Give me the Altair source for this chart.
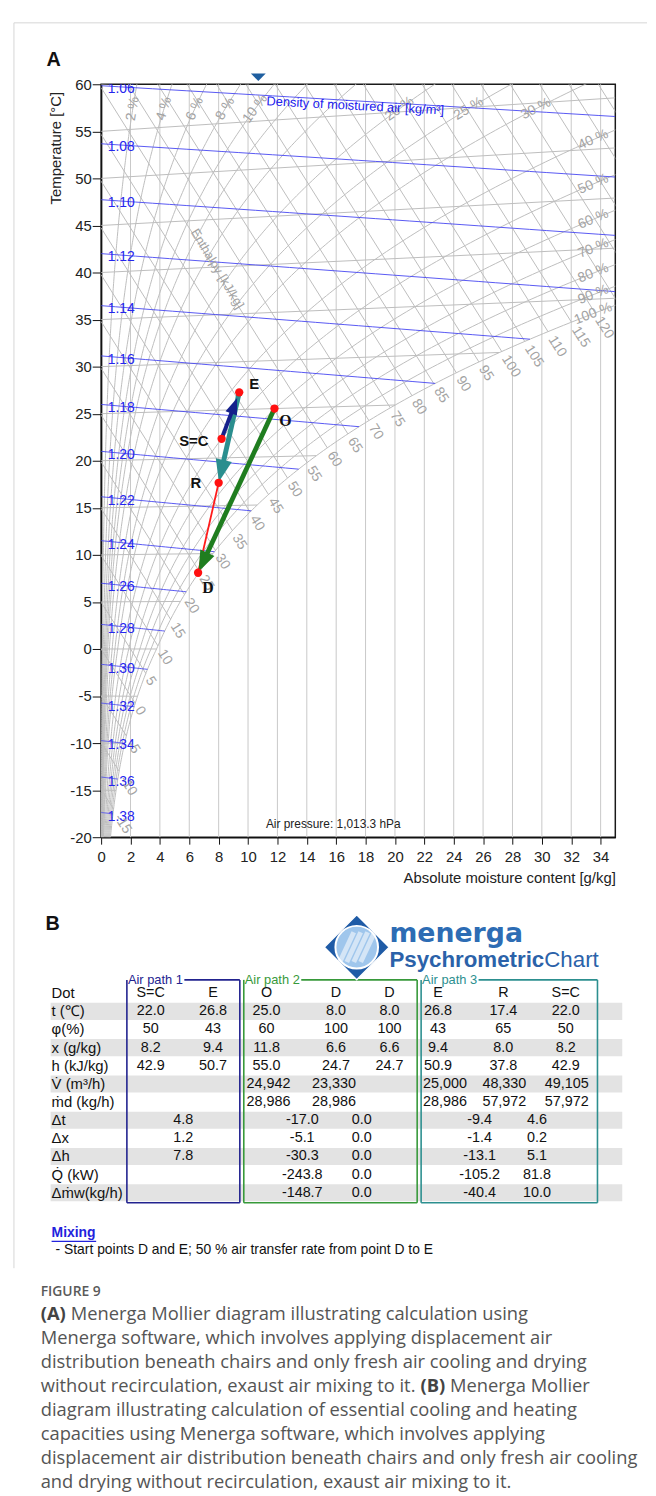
import math
import altair as alt
import pandas as pd

# ============================ values ============================
RH_LEVELS = [2, 4, 6, 8, 10, 12, 15, 20, 25, 30, 40, 50, 60, 70, 80, 90, 100]
RH_TOP_LABELS = [2, 4, 6, 8, 10, 20, 25, 30]
RH_SIDE_LABELS = [40, 50, 60, 70, 80, 90, 100]
ENTHALPY_LEVELS = list(range(-15, 155, 5))
ENTHALPY_LABELS = list(range(-15, 125, 5))
DENSITY_LEVELS = [1.06, 1.08, 1.10, 1.12, 1.14, 1.16, 1.18, 1.20, 1.22,
                  1.24, 1.26, 1.28, 1.30, 1.32, 1.34, 1.36, 1.38]
ISOTHERMS = list(range(-20, 65, 5))
MOISTURE_GRID = list(range(2, 36, 2))
X_TICKS = list(range(0, 35, 2))
Y_TICKS = list(range(-20, 61, 5))

STATE_NAMES = ["S=C", "E", "O", "D", "R"]
STATE_T = [22.0, 26.8, 25.0, 8.0, 17.4]
STATE_X = [8.2, 9.4, 11.8, 6.6, 8.0]
MIXING_LINE = ["D", "R"]
ARROW_FROM = ["O", "E", "S=C"]
ARROW_TO = ["D", "R", "E"]
MARKER_X = 10.7

ROW_LABELS = ["Dot", "t (\u2103)", "\u03c6(%)", "x (g/kg)", "h (kJ/kg)", "V\u0307 (m\u00b3/h)",
              "\u1e41d (kg/h)", "\u0394t", "\u0394x", "\u0394h", "Q\u0307 (kW)", "\u0394\u1e41w(kg/h)"]
COL_HEADERS = ["S=C", "E", "O", "D", "D", "E", "R", "S=C"]
ROW_T = ["22.0", "26.8", "25.0", "8.0", "8.0", "26.8", "17.4", "22.0"]
ROW_PHI = ["50", "43", "60", "100", "100", "43", "65", "50"]
ROW_X = ["8.2", "9.4", "11.8", "6.6", "6.6", "9.4", "8.0", "8.2"]
ROW_H = ["42.9", "50.7", "55.0", "24.7", "24.7", "50.9", "37.8", "42.9"]
ROW_V = ["", "", "24,942", "23,330", "", "25,000", "48,330", "49,105"]
ROW_M = ["", "", "28,986", "28,986", "", "28,986", "57,972", "57,972"]
ROW_DT = ["4.8", "-17.0", "0.0", "-9.4", "4.6"]
ROW_DX = ["1.2", "-5.1", "0.0", "-1.4", "0.2"]
ROW_DH = ["7.8", "-30.3", "0.0", "-13.1", "5.1"]
ROW_Q = ["", "-243.8", "0.0", "-105.2", "81.8"]
ROW_DM = ["", "-148.7", "0.0", "-40.4", "10.0"]
AIR_PATHS = ["Air path 1", "Air path 2", "Air path 3"]

MIXING_TITLE = "Mixing"
MIXING_NOTE = "- Start points D and E; 50 % air transfer rate from point D to E"
FIG_LABEL = "FIGURE 9"
CAPTION = [
    [("(A)", True), ("Menerga Mollier diagram illustrating calculation using", False)],
    [("Menerga software, which involves applying displacement air", False)],
    [("distribution beneath chairs and only fresh air cooling and drying", False)],
    [("without recirculation, exaust air mixing to it.", False), ("(B)", True), ("Menerga Mollier", False)],
    [("diagram illustrating calculation of essential cooling and heating", False)],
    [("capacities using Menerga software, which involves applying", False)],
    [("displacement air distribution beneath chairs and only fresh air cooling", False)],
    [("and drying without recirculation, exaust air mixing to it.", False)],
]

# ============================ layout / style ============================
W, H = 519, 760
PX_X = W / 35.0
PX_Y = H / 80.0
FONT = "Liberation Sans"
GRID = "#bdbdbd"
LABEL_GRAY = "#a3a3a3"
BLUE = "#4646f2"
ARROW_STYLE = {"O": ("#1f7d1f", 4.8, 340), "E": ("#2a8e8e", 5.0, 380), "S=C": ("#14208c", 4.0, 210)}
LABEL_OFF = {"S=C": (-28, 2), "E": (15, -8), "O": (11, 13), "D": (10, 15), "R": (-23, 0)}
HEAD = "M0,0L0.85,2.3L-0.85,2.3Z"

COL_XP = [151, 214, 268, 338, 392, 441, 507, 570]
COL_XP_WIDE = [151, 214, 270, 336, 392, 448, 508, 571]   # V / m rows
DELTA_XP = [184, 304, 364, 483, 541]
LABEL_XP = 51
ROW0 = 994.5
ROWH = 18.3
BOXES = [(127, 241, "#22238f"), (245, 420, "#37993a"), (424, 602, "#2c8f8f")]
BOX_TOP, BOX_BOT = 981, 1206
CAP_X = 40
CAP_FS = 18.5
CAP_SCALE = CAP_FS / 18.0

# ============================ psychrometrics ============================
P_ATM = 101325.0


def p_sat(t):
    if t >= 0:
        return 611.2 * math.exp(17.62 * t / (243.12 + t))
    return 611.2 * math.exp(22.46 * t / (272.62 + t))


def moisture(t, phi):
    pv = phi / 100.0 * p_sat(t)
    return 622.0 * pv / (P_ATM - pv)


def mollier_y(t, x):
    return t * (1.0 + 0.00186 * x / 1.006)


def bisect(f, a, b, n=70):
    fa = f(a)
    for _ in range(n):
        m = 0.5 * (a + b)
        fm = f(m)
        if (fm > 0) == (fa > 0):
            a, fa = m, fm
        else:
            b = m
    return 0.5 * (a + b)


def h_sat(t):
    x = moisture(t, 100)
    return 1.006 * t + x / 1000.0 * (2501 + 1.86 * t)


def dens_t(rho, x):
    T = P_ATM * (1 + x / 1000.0) / (rho * 287.06 * (1 + 1.608 * x / 1000.0))
    return T - 273.15


def rh_point(phi, t):
    x = moisture(t, phi)
    return x, mollier_y(t, x)


def rh_angle(phi, t):
    x1, y1 = rh_point(phi, t - 0.05)
    x2, y2 = rh_point(phi, t + 0.05)
    return (-math.degrees(math.atan2((y2 - y1) * PX_Y, (x2 - x1) * PX_X))) % 360


rh_rows = []
for phi in RH_LEVELS:
    t, k = -20.0, 0
    while t <= 70:
        x, y = rh_point(phi, t)
        rh_rows.append({"id": phi, "o": k, "x": x, "y": y})
        k += 1
        if x > 36 or y > 61:
            break
        t += 0.25
rh_df = pd.DataFrame(rh_rows)

rh_lab = []
for phi in RH_TOP_LABELS:
    t = bisect(lambda tt: rh_point(phi, tt)[1] - 57.4, -20, 70)
    x, y = rh_point(phi, t)
    rh_lab.append({"x": x, "y": y, "text": f"{phi} %", "a": rh_angle(phi, t)})
for phi in RH_SIDE_LABELS:
    t = bisect(lambda tt: rh_point(phi, tt)[0] - 33.5, -20, 70)
    x, y = rh_point(phi, t)
    rh_lab.append({"x": x, "y": y, "text": f"{phi} %", "a": rh_angle(phi, t)})
rh_lab_df = pd.DataFrame(rh_lab)

h_rows, h_lab = [], []
SLOPE = 2.501 / 1.006
for h in ENTHALPY_LEVELS:
    ts = bisect(lambda tt: h_sat(tt) - h, -30, 70)
    xe = moisture(ts, 100)
    ye = mollier_y(ts, xe)
    if h / 1.006 <= 60:
        x0, y0 = 0.0, h / 1.006
    else:
        x0, y0 = (h - 1.006 * 60) / 2.501, 60.0
    h_rows.append({"x": x0, "y": y0, "x2": xe, "y2": ye})
    if h in ENTHALPY_LABELS:
        half = 4.2 * len(str(h)) + 5
        d = half / math.hypot(PX_X, SLOPE * PX_Y)
        h_lab.append({"x": xe + d, "y": ye - SLOPE * d, "text": str(h)})
h_df = pd.DataFrame(h_rows)
h_lab_df = pd.DataFrame(h_lab)

iso_rows = []
for t in ISOTHERMS:
    xe = min(moisture(t, 100), 35.0)
    iso_rows.append({"x": 0.0, "y": float(t), "x2": xe, "y2": mollier_y(t, xe)})
iso_df = pd.DataFrame(iso_rows)

d_rows, d_lab = [], []
for rho in DENSITY_LEVELS:
    f = lambda x: x - moisture(dens_t(rho, x), 100)
    xe = 35.0 if f(35.0) < 0 else bisect(f, 0.0, 35.0)
    for k in range(31):
        x = xe * k / 30.0
        t = dens_t(rho, x)
        d_rows.append({"id": rho, "o": k, "x": x, "y": mollier_y(t, x)})
    d_lab.append({"x": 0.45, "y": mollier_y(dens_t(rho, 1.3), 1.3) - 0.25, "text": f"{rho:.2f}"})
d_df = pd.DataFrame(d_rows)
d_lab_df = pd.DataFrame(d_lab)


def state(name):
    i = STATE_NAMES.index(name)
    return STATE_X[i], mollier_y(STATE_T[i], STATE_X[i])


pts_df = pd.DataFrame([{"name": n, "x": state(n)[0], "y": state(n)[1]} for n in STATE_NAMES])
lab_rows = []
for n in STATE_NAMES:
    x, y = state(n)
    dx, dy = LABEL_OFF[n]
    lab_rows.append({"text": n, "x": x + dx / PX_X, "y": y - dy / PX_Y, "serif": n in ("O", "D")})
lab_df = pd.DataFrame(lab_rows)

mx0, my0 = state(MIXING_LINE[0])
mx1, my1 = state(MIXING_LINE[1])
mix_df = pd.DataFrame([{"x": mx0, "y": my0, "x2": mx1, "y2": my1}])

a_lines, a_heads = [], []
for a, b in zip(ARROW_FROM, ARROW_TO):
    col, lw, size = ARROW_STYLE[a]
    x0, y0 = state(a)
    x1, y1 = state(b)
    back = 6.0 if a == "S=C" else 1.0
    dxp, dyp = (x1 - x0) * PX_X, (y1 - y0) * PX_Y
    L = math.hypot(dxp, dyp)
    ux, uy = dxp / L, dyp / L
    tx, ty = x1 - ux * back / PX_X, y1 - uy * back / PX_Y
    hlen = 2.3 * math.sqrt(size) / 2
    bx, by = tx - ux * hlen * 0.8 / PX_X, ty - uy * hlen * 0.8 / PX_Y
    a_lines.append({"x": x0, "y": y0, "x2": bx, "y2": by, "c": col, "w": lw})
    a_heads.append({"x": tx, "y": ty, "c": col, "s": size,
                    "a": math.degrees(math.atan2(ux, uy)) % 360})
a_lines_df = pd.DataFrame(a_lines)
a_heads_df = pd.DataFrame(a_heads)

# ============================ panel A chart ============================
xs = alt.Scale(domain=[0, 35], nice=False, zero=False)
ys = alt.Scale(domain=[-20, 60], nice=False, zero=False)

x_axis = alt.Axis(values=X_TICKS, title="Absolute moisture content [g/kg]", grid=False,
                  domainColor="#111", domainWidth=1.5, tickColor="#111", tickSize=7,
                  labelFont=FONT, labelFontSize=15, labelColor="#222", labelPadding=6,
                  labelFlush=False, labelOverlap=False,
                  titleFont=FONT, titleFontSize=15, titleFontWeight="normal", titleColor="#222",
                  titleAlign="right", titleX=W, titleY=41, titleBaseline="middle")
y_axis = alt.Axis(values=Y_TICKS, title="Temperature [\u00b0C]", grid=False,
                  domainColor="#111", domainWidth=1.5, tickColor="#111", tickSize=9,
                  labelFont=FONT, labelFontSize=15, labelColor="#222", labelPadding=1,
                  labelFlush=False, labelOverlap=False,
                  labelExpr="datum.value < 0 ? '-' + abs(datum.value) : '' + datum.value",
                  titleFont=FONT, titleFontSize=15, titleFontWeight="normal", titleColor="#222",
                  titleX=-46, titleY=64, titleAngle=270, titleAlign="center",
                  titleBaseline="middle")


def XQ(f="x"):
    return alt.X(f"{f}:Q", scale=xs, axis=x_axis)


def YQ(f="y"):
    return alt.Y(f"{f}:Q", scale=ys, axis=y_axis)


vgrid = alt.Chart(pd.DataFrame({"x": MOISTURE_GRID, "y": -20, "y2": 60})).mark_rule(
    color="#c8c8c8", strokeWidth=1).encode(x=XQ(), y=YQ(), y2="y2:Q")
iso = alt.Chart(iso_df).mark_rule(color=GRID, strokeWidth=1, clip=True).encode(
    x=XQ(), y=YQ(), x2="x2:Q", y2="y2:Q")
hl = alt.Chart(h_df).mark_rule(color=GRID, strokeWidth=1, clip=True).encode(
    x=XQ(), y=YQ(), x2="x2:Q", y2="y2:Q")
rh = alt.Chart(rh_df).mark_line(color=GRID, strokeWidth=1, clip=True).encode(
    x=XQ(), y=YQ(), detail="id:N", order="o:Q")
dens = alt.Chart(d_df).mark_line(color=BLUE, strokeWidth=0.9, clip=True).encode(
    x=XQ(), y=YQ(), detail="id:N", order="o:Q")

dens_lab = alt.Chart(d_lab_df).mark_text(font=FONT, fontSize=14, color="#2525ee", align="left",
                                         baseline="middle", clip=True).encode(
    x=XQ(), y=YQ(), text="text:N")
h_labels = alt.Chart(h_lab_df).mark_text(font=FONT, fontSize=14, color=LABEL_GRAY, angle=57.9,
                                         align="center", baseline="middle").encode(
    x=XQ(), y=YQ(), text="text:N")
rh_labels = alt.Chart(rh_lab_df).mark_text(font=FONT, fontSize=14, color=LABEL_GRAY,
                                           align="center", baseline="middle").encode(
    x=XQ(), y=YQ(), text="text:N", angle=alt.Angle("a:Q", scale=None))

dens_note = alt.Chart(pd.DataFrame([{"x": 17.3, "y": 57.7, "text": "Density of moistured air [kg/m\u00b3]"}])).mark_text(
    font=FONT, fontSize=13, color="#2020ee", angle=3, align="center", baseline="middle").encode(
    x=XQ(), y=YQ(), text="text:N")
ent_note = alt.Chart(pd.DataFrame([{"x": 7.9, "y": 40.4, "text": "Enthalpy [kJ/kg]"}])).mark_text(
    font=FONT, fontSize=13, color=LABEL_GRAY, angle=59, align="center", baseline="middle").encode(
    x=XQ(), y=YQ(), text="text:N")
press_note = alt.Chart(pd.DataFrame([{"x": 15.8, "y": -18.6, "text": "Air pressure: 1,013.3 hPa"}])).mark_text(
    font=FONT, fontSize=12, color="#222", align="center", baseline="middle").encode(
    x=XQ(), y=YQ(), text="text:N")

mix_line = alt.Chart(mix_df).mark_rule(color="#ff1a1a", strokeWidth=1.8).encode(
    x=XQ(), y=YQ(), x2="x2:Q", y2="y2:Q")
arrow_lines = alt.Chart(a_lines_df).mark_rule().encode(
    x=XQ(), y=YQ(), x2="x2:Q", y2="y2:Q",
    color=alt.Color("c:N", scale=None), strokeWidth=alt.StrokeWidth("w:Q", scale=None))
arrow_heads = alt.Chart(a_heads_df).mark_point(shape=HEAD, filled=True, opacity=1).encode(
    x=XQ(), y=YQ(), color=alt.Color("c:N", scale=None), size=alt.Size("s:Q", scale=None),
    angle=alt.Angle("a:Q", scale=None))
points = alt.Chart(pts_df).mark_circle(size=70, color="#ff1010", opacity=1).encode(x=XQ(), y=YQ())
labels_sans = alt.Chart(lab_df[~lab_df.serif]).mark_text(
    font=FONT, fontSize=15, fontWeight="bold", color="#111", align="center", baseline="middle").encode(
    x=XQ(), y=YQ(), text="text:N")
labels_serif = alt.Chart(lab_df[lab_df.serif]).mark_text(
    font="Liberation Serif", fontSize=16, fontWeight="bold", color="#111", align="center",
    baseline="middle").encode(x=XQ(), y=YQ(), text="text:N")
marker = alt.Chart(pd.DataFrame([{"x": MARKER_X, "y": 60}])).mark_point(
    shape="M-1,-0.5L1,-0.5L0,0.5Z", filled=True, size=225, color="#1f5fa0", opacity=1,
    yOffset=-7).encode(x=XQ(), y=YQ())

panel_a = alt.layer(vgrid, iso, hl, rh, dens, dens_lab, h_labels, rh_labels, dens_note,
                    ent_note, press_note, mix_line, arrow_lines, arrow_heads, points,
                    labels_sans, labels_serif, marker)

# ============================ page overlay (panel B + caption) ============================
ox = alt.Scale(domain=[101, 101 + W], nice=False, zero=False)
oy = alt.Scale(domain=[77, 77 + H], nice=False, zero=False, reverse=True)


def PX(f="x"):
    return alt.X(f"{f}:Q", scale=ox, axis=None)


def PY(f="y"):
    return alt.Y(f"{f}:Q", scale=oy, axis=None)


def ptext(rows, **kw):
    return alt.Chart(pd.DataFrame(rows)).mark_text(**kw).encode(x=PX(), y=PY(), text="text:N")


def prules(rows, **kw):
    df = pd.DataFrame(rows)
    enc = {"x": PX(), "y": PY()}
    if "x2" in df:
        enc["x2"] = "x2:Q"
    if "y2" in df:
        enc["y2"] = "y2:Q"
    return alt.Chart(df).mark_rule(**kw).encode(**enc)


border = prules([{"x": 13, "y": 15, "y2": 1272}, {"x": 13, "x2": 652, "y": 15}],
                color="#d6d6d6", strokeWidth=1)
panel_letters = ptext([{"x": 53, "y": 53, "text": "A"}, {"x": 52, "y": 925, "text": "B"}],
                      font=FONT, fontSize=20, fontWeight="bold", color="#111",
                      align="center", baseline="middle")

row_y = lambda r: ROW0 + r * ROWH
shade = alt.Chart(pd.DataFrame([{"x": 50, "x2": 627, "y": row_y(r) - 8.6, "y2": row_y(r) + 8.6}
                                for r in (1, 3, 5, 7, 9, 11)])).mark_rect(color="#e3e3e3").encode(
    x=PX(), x2="x2:Q", y=PY(), y2="y2:Q")

cells = []
for r, lab in enumerate(ROW_LABELS):
    cells.append({"x": LABEL_XP, "y": row_y(r), "text": lab, "al": "left"})
for r, vals in enumerate([COL_HEADERS, ROW_T, ROW_PHI, ROW_X, ROW_H, ROW_V, ROW_M]):
    cols = COL_XP_WIDE if r >= 5 else COL_XP
    for cx, v in zip(cols, vals):
        if v:
            cells.append({"x": cx, "y": row_y(r), "text": v, "al": "center"})
for r, vals in enumerate([ROW_DT, ROW_DX, ROW_DH, ROW_Q, ROW_DM], start=7):
    for cx, v in zip(DELTA_XP, vals):
        if v:
            cells.append({"x": cx, "y": row_y(r), "text": v, "al": "center"})
cells_df = pd.DataFrame(cells)
cell_left = ptext(cells_df[cells_df.al == "left"].to_dict("records"), font=FONT, fontSize=15,
                  color="#111", align="left", baseline="middle")
cell_center = ptext(cells_df[cells_df.al == "center"].to_dict("records"), font=FONT, fontSize=14.5,
                    color="#111", align="center", baseline="middle")

box_layers = []
for (bl, br, col), name in zip(BOXES, AIR_PATHS):
    box_layers.append(prules([
        {"x": bl + 58, "x2": br, "y": BOX_TOP},
        {"x": bl, "x2": br, "y": BOX_BOT},
        {"x": bl, "y": BOX_TOP, "y2": BOX_BOT},
        {"x": br, "y": BOX_TOP, "y2": BOX_BOT}], color=col, strokeWidth=1.6))
    box_layers.append(ptext([{"x": bl + 1, "y": BOX_TOP, "text": name}], font=FONT, fontSize=13,
                            color=col, align="left", baseline="middle"))

logo_c = pd.DataFrame([{"x": 359, "y": 948}])
logo_diamond = alt.Chart(logo_c).mark_point(shape="diamond", filled=True, size=4300, fill="#1f5ba6",
                                             stroke="#ffffff", strokeWidth=1.5, opacity=1).encode(
    x=PX(), y=PY())
logo_circle = alt.Chart(logo_c).mark_point(shape="circle", filled=True, size=1850, fill="#9fc6ec",
                                            stroke="#ffffff", strokeWidth=2, opacity=1).encode(
    x=PX(), y=PY())
logo_stripes = alt.Chart(pd.DataFrame([{"x": 359 + dx, "y": 948} for dx in (-10, -3, 4, 11)])).mark_point(
    shape="M-0.15,-1L0.15,-1L0.15,1L-0.15,1Z", filled=True, size=1100, fill="#ffffff", opacity=0.55,
    angle=25).encode(x=PX(), y=PY())
logo_m = ptext([{"x": 392, "y": 943, "text": "menerga"}], font="DejaVu Sans", fontSize=27,
               fontWeight="bold", color="#2d6cb4", align="left", baseline="alphabetic")
logo_p = ptext([{"x": 392, "y": 968, "text": "Psychrometric"}], font=FONT, fontSize=22.5,
               fontWeight="bold", color="#2b62a9", align="left", baseline="alphabetic")
logo_c2 = ptext([{"x": 392 + 6.947 * 22.5, "y": 968, "text": "Chart"}], font=FONT, fontSize=22.5,
                color="#2b62a9", align="left", baseline="alphabetic")

mix_t = ptext([{"x": 51, "y": 1237, "text": MIXING_TITLE}], font=FONT, fontSize=14, fontWeight="bold",
              color="#2222dd", align="left", baseline="middle")
mix_u = prules([{"x": 51, "x2": 96, "y": 1245}], color="#2222dd", strokeWidth=1.2)
mix_n = ptext([{"x": 55, "y": 1254, "text": MIXING_NOTE}], font=FONT, fontSize=14, color="#111",
              align="left", baseline="middle")

fig_l = ptext([{"x": CAP_X, "y": 1296, "text": FIG_LABEL}], font="Open Sans", fontSize=14,
              fontWeight=600, color="#5a5a5a", align="left", baseline="middle")
SEG_X = {(0, 0): CAP_X, (0, 1): CAP_X + 29.5 * CAP_SCALE, (3, 0): CAP_X,
         (3, 1): CAP_X + 373 * CAP_SCALE, (3, 2): CAP_X + 402 * CAP_SCALE}
cap_reg, cap_bold = [], []
for i, segs in enumerate(CAPTION):
    for j, (txt, bold) in enumerate(segs):
        row = {"x": SEG_X.get((i, j), CAP_X), "y": 1318 + i * 24.3, "text": txt}
        (cap_bold if bold else cap_reg).append(row)
cap_r = ptext(cap_reg, font="Open Sans", fontSize=CAP_FS, color="#555555", align="left", baseline="middle")
cap_b = ptext(cap_bold, font="Open Sans", fontSize=CAP_FS, fontWeight="bold", color="#444444",
              align="left", baseline="middle")

overlay = alt.layer(border, panel_letters, shade, *box_layers, cell_left, cell_center,
                    logo_diamond, logo_circle, logo_stripes, logo_m, logo_p, logo_c2,
                    mix_t, mix_u, mix_n, fig_l, cap_r, cap_b)

chart = alt.layer(panel_a, overlay).resolve_scale(x="independent", y="independent").properties(
    width=W, height=H, padding={"left": 5, "top": 7, "right": 0, "bottom": 0},
    background="white"
).configure_view(stroke="#1a1a1a", strokeWidth=1.5)

chart.save("out.html", embed_options={"renderer": "svg", "actions": False})
